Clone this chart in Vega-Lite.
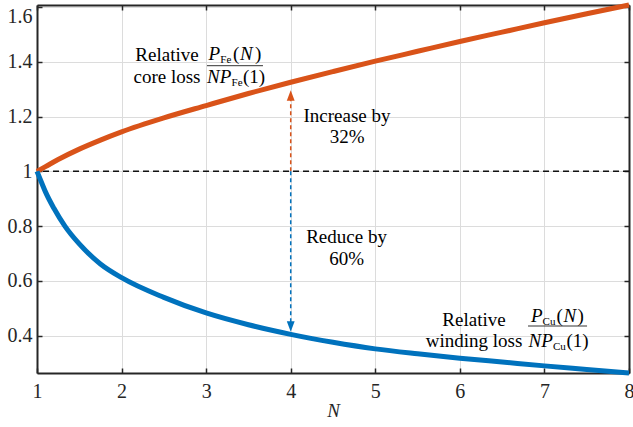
{
  "$schema": "https://vega.github.io/schema/vega-lite/v6.json",
  "width": 592,
  "height": 368,
  "autosize": {"type": "none"},
  "padding": {"left": 37, "top": 5, "right": 4, "bottom": 54},
  "background": "white",
  "config": {"view": {"stroke": null}, "font": "Liberation Serif"},
  "datasets": {
    "curves": [
      {"N": 1, "loss": 1.0, "kind": "core"},
      {"N": 1.1, "loss": 1.017, "kind": "core"},
      {"N": 1.25, "loss": 1.043, "kind": "core"},
      {"N": 1.5, "loss": 1.081, "kind": "core"},
      {"N": 1.75, "loss": 1.114, "kind": "core"},
      {"N": 2, "loss": 1.144, "kind": "core"},
      {"N": 2.5, "loss": 1.195, "kind": "core"},
      {"N": 3, "loss": 1.24, "kind": "core"},
      {"N": 3.5, "loss": 1.284, "kind": "core"},
      {"N": 4, "loss": 1.325, "kind": "core"},
      {"N": 4.5, "loss": 1.364, "kind": "core"},
      {"N": 5, "loss": 1.402, "kind": "core"},
      {"N": 5.5, "loss": 1.438, "kind": "core"},
      {"N": 6, "loss": 1.474, "kind": "core"},
      {"N": 6.5, "loss": 1.508, "kind": "core"},
      {"N": 7, "loss": 1.542, "kind": "core"},
      {"N": 7.5, "loss": 1.575, "kind": "core"},
      {"N": 8, "loss": 1.607, "kind": "core"},
      {"N": 1, "loss": 1.0, "kind": "winding"},
      {"N": 1.05, "loss": 0.962, "kind": "winding"},
      {"N": 1.1, "loss": 0.925, "kind": "winding"},
      {"N": 1.2, "loss": 0.865, "kind": "winding"},
      {"N": 1.33, "loss": 0.8, "kind": "winding"},
      {"N": 1.5, "loss": 0.735, "kind": "winding"},
      {"N": 1.75, "loss": 0.662, "kind": "winding"},
      {"N": 2, "loss": 0.612, "kind": "winding"},
      {"N": 2.5, "loss": 0.54, "kind": "winding"},
      {"N": 3, "loss": 0.483, "kind": "winding"},
      {"N": 3.5, "loss": 0.44, "kind": "winding"},
      {"N": 4, "loss": 0.405, "kind": "winding"},
      {"N": 4.5, "loss": 0.376, "kind": "winding"},
      {"N": 5, "loss": 0.352, "kind": "winding"},
      {"N": 5.5, "loss": 0.334, "kind": "winding"},
      {"N": 6, "loss": 0.318, "kind": "winding"},
      {"N": 6.5, "loss": 0.304, "kind": "winding"},
      {"N": 7, "loss": 0.29, "kind": "winding"},
      {"N": 7.5, "loss": 0.277, "kind": "winding"},
      {"N": 8, "loss": 0.264, "kind": "winding"}
    ],
    "arrows": [
      {"N": 4, "from": 1, "to": 1.275, "dir": "up"},
      {"N": 4, "from": 1, "to": 0.44, "dir": "down"}
    ],
    "heads": [
      {"N": 4, "v": 1.277, "dir": "up"},
      {"N": 4, "v": 0.434, "dir": "down"}
    ],
    "fracs": [
      {"N1": 3.01, "N2": 3.672, "v": 1.3855},
      {"N1": 6.806, "N2": 7.504, "v": 0.4355}
    ],
    "notes": [
      {"N": 2.537, "v": 1.403, "t": "Relative", "k": "center"},
      {"N": 2.537, "v": 1.3223, "t": "core loss", "k": "center"},
      {"N": 4.666, "v": 1.181, "t": "Increase by", "k": "center"},
      {"N": 4.666, "v": 1.1034, "t": "32%", "k": "center"},
      {"N": 4.66, "v": 0.7384, "t": "Reduce by", "k": "center"},
      {"N": 4.66, "v": 0.6581, "t": "60%", "k": "center"},
      {"N": 6.167, "v": 0.4355, "t": "Relative", "k": "center"},
      {"N": 6.167, "v": 0.3588, "t": "winding loss", "k": "center"},
      {"N": 3.028, "v": 1.4063, "t": "P", "k": "italic"},
      {"N": 3.167, "v": 1.395, "t": "Fe", "k": "sub"},
      {"N": 3.318, "v": 1.4063, "t": "(", "k": "roman"},
      {"N": 3.4, "v": 1.4063, "t": "N", "k": "italic"},
      {"N": 3.578, "v": 1.4063, "t": ")", "k": "roman"},
      {"N": 3.01, "v": 1.3223, "t": "NP", "k": "italic"},
      {"N": 3.3, "v": 1.3114, "t": "Fe", "k": "sub"},
      {"N": 3.436, "v": 1.3223, "t": "(1)", "k": "roman"},
      {"N": 6.841, "v": 0.45, "t": "P", "k": "italic"},
      {"N": 6.978, "v": 0.4391, "t": "Cu", "k": "sub"},
      {"N": 7.143, "v": 0.45, "t": "(", "k": "roman"},
      {"N": 7.226, "v": 0.45, "t": "N", "k": "italic"},
      {"N": 7.391, "v": 0.45, "t": ")", "k": "roman"},
      {"N": 6.812, "v": 0.3588, "t": "NP", "k": "italic"},
      {"N": 7.101, "v": 0.3479, "t": "Cu", "k": "sub"},
      {"N": 7.261, "v": 0.3588, "t": "(1)", "k": "roman"}
    ]
  },
  "layer": [
    {
      "data": {"values": [{"v": 1}]},
      "mark": {"type": "rule", "strokeDash": [6, 4], "strokeWidth": 1.5, "color": "#111111"},
      "encoding": {
        "y": {"field": "v", "type": "quantitative", "scale": {"domain": [0.264, 1.607], "nice": false, "zero": false}, "axis": null}
      }
    },
    {
      "data": {"name": "curves"},
      "mark": {"type": "line", "strokeWidth": 5, "interpolate": "monotone"},
      "encoding": {
        "x": {
          "field": "N", "type": "quantitative",
          "scale": {"domain": [1, 8], "nice": false, "zero": false},
          "axis": {
            "orient": "bottom", "values": [1, 2, 3, 4, 5, 6, 7, 8],
            "grid": true, "gridColor": "#dcdcdc", "gridWidth": 1,
            "domainColor": "#262626", "domainWidth": 2,
            "tickColor": "#262626", "tickWidth": 1.5, "tickSize": -5,
            "labelFont": "Liberation Serif", "labelFontSize": 20, "labelColor": "#262626",
            "labelPadding": 13, "labelFlush": false,
            "title": "N", "titleFont": "Liberation Serif", "titleFontStyle": "italic",
            "titleFontWeight": "normal", "titleFontSize": 19, "titleColor": "#262626", "titlePadding": 0
          }
        },
        "y": {
          "field": "loss", "type": "quantitative",
          "scale": {"domain": [0.264, 1.607], "nice": false, "zero": false},
          "axis": {
            "orient": "left", "values": [0.4, 0.6, 0.8, 1, 1.2, 1.4, 1.6], "format": ".1~f",
            "grid": true, "gridColor": "#dcdcdc", "gridWidth": 1,
            "domainColor": "#262626", "domainWidth": 2,
            "tickColor": "#262626", "tickWidth": 1.5, "tickSize": -5,
            "labelFont": "Liberation Serif", "labelFontSize": 20, "labelColor": "#262626",
            "labelPadding": 10, "labelFlush": 3, "title": null
          }
        },
        "color": {
          "field": "kind", "type": "nominal",
          "scale": {"domain": ["core", "winding"], "range": ["#D95319", "#0072BD"]},
          "legend": null
        }
      }
    },
    {
      "data": {"name": "arrows"},
      "mark": {"type": "rule", "strokeDash": [4, 3], "strokeWidth": 1.5},
      "encoding": {
        "x": {
          "field": "N", "type": "quantitative",
          "scale": {"domain": [1, 8], "nice": false, "zero": false},
          "axis": {
            "orient": "top", "values": [1, 2, 3, 4, 5, 6, 7, 8], "grid": false, "labels": false,
            "domainColor": "#262626", "domainWidth": 2,
            "tickColor": "#262626", "tickWidth": 1.5, "tickSize": -5, "title": null
          }
        },
        "y": {
          "field": "from", "type": "quantitative",
          "scale": {"domain": [0.264, 1.607], "nice": false, "zero": false},
          "axis": {
            "orient": "right", "values": [0.4, 0.6, 0.8, 1, 1.2, 1.4, 1.6], "grid": false, "labels": false,
            "domainColor": "#262626", "domainWidth": 2,
            "tickColor": "#262626", "tickWidth": 1.5, "tickSize": -5, "title": null
          }
        },
        "y2": {"field": "to"},
        "color": {
          "field": "dir", "type": "nominal",
          "scale": {"domain": ["up", "down"], "range": ["#CC5555", "#2878C4"]},
          "legend": null
        }
      }
    },
    {
      "data": {"name": "heads"},
      "mark": {"type": "point", "filled": true, "opacity": 1, "size": 110},
      "encoding": {
        "x": {"field": "N", "type": "quantitative", "scale": {"domain": [1, 8], "nice": false, "zero": false}, "axis": null},
        "y": {"field": "v", "type": "quantitative", "scale": {"domain": [0.264, 1.607], "nice": false, "zero": false}, "axis": null},
        "shape": {
          "field": "dir", "type": "nominal",
          "scale": {"domain": ["up", "down"], "range": ["M0,-1L0.75,1L-0.75,1Z", "M0,1L0.75,-1L-0.75,-1Z"]},
          "legend": null
        },
        "color": {
          "field": "dir", "type": "nominal",
          "scale": {"domain": ["up", "down"], "range": ["#CC5555", "#2878C4"]},
          "legend": null
        }
      }
    },
    {
      "data": {"name": "fracs"},
      "mark": {"type": "rule", "strokeWidth": 1, "color": "#333333"},
      "encoding": {
        "x": {"field": "N1", "type": "quantitative", "scale": {"domain": [1, 8], "nice": false, "zero": false}, "axis": null},
        "x2": {"field": "N2"},
        "y": {"field": "v", "type": "quantitative", "scale": {"domain": [0.264, 1.607], "nice": false, "zero": false}, "axis": null}
      }
    },
    {
      "data": {"name": "notes"},
      "transform": [{"filter": "datum.k === 'center'"}],
      "mark": {"type": "text", "font": "Liberation Serif", "fontSize": 19, "align": "center", "baseline": "alphabetic", "color": "#000000"},
      "encoding": {
        "x": {"field": "N", "type": "quantitative", "scale": {"domain": [1, 8], "nice": false, "zero": false}, "axis": null},
        "y": {"field": "v", "type": "quantitative", "scale": {"domain": [0.264, 1.607], "nice": false, "zero": false}, "axis": null},
        "text": {"field": "t"}
      }
    },
    {
      "data": {"name": "notes"},
      "transform": [{"filter": "datum.k === 'roman'"}],
      "mark": {"type": "text", "font": "Liberation Serif", "fontSize": 19, "align": "left", "baseline": "alphabetic", "color": "#000000"},
      "encoding": {
        "x": {"field": "N", "type": "quantitative", "scale": {"domain": [1, 8], "nice": false, "zero": false}, "axis": null},
        "y": {"field": "v", "type": "quantitative", "scale": {"domain": [0.264, 1.607], "nice": false, "zero": false}, "axis": null},
        "text": {"field": "t"}
      }
    },
    {
      "data": {"name": "notes"},
      "transform": [{"filter": "datum.k === 'italic'"}],
      "mark": {"type": "text", "font": "Liberation Serif", "fontSize": 19, "fontStyle": "italic", "align": "left", "baseline": "alphabetic", "color": "#000000"},
      "encoding": {
        "x": {"field": "N", "type": "quantitative", "scale": {"domain": [1, 8], "nice": false, "zero": false}, "axis": null},
        "y": {"field": "v", "type": "quantitative", "scale": {"domain": [0.264, 1.607], "nice": false, "zero": false}, "axis": null},
        "text": {"field": "t"}
      }
    },
    {
      "data": {"name": "notes"},
      "transform": [{"filter": "datum.k === 'sub'"}],
      "mark": {"type": "text", "font": "Liberation Serif", "fontSize": 11, "align": "left", "baseline": "alphabetic", "color": "#000000"},
      "encoding": {
        "x": {"field": "N", "type": "quantitative", "scale": {"domain": [1, 8], "nice": false, "zero": false}, "axis": null},
        "y": {"field": "v", "type": "quantitative", "scale": {"domain": [0.264, 1.607], "nice": false, "zero": false}, "axis": null},
        "text": {"field": "t"}
      }
    }
  ],
  "resolve": {"axis": {"x": "independent", "y": "independent"}}
}
